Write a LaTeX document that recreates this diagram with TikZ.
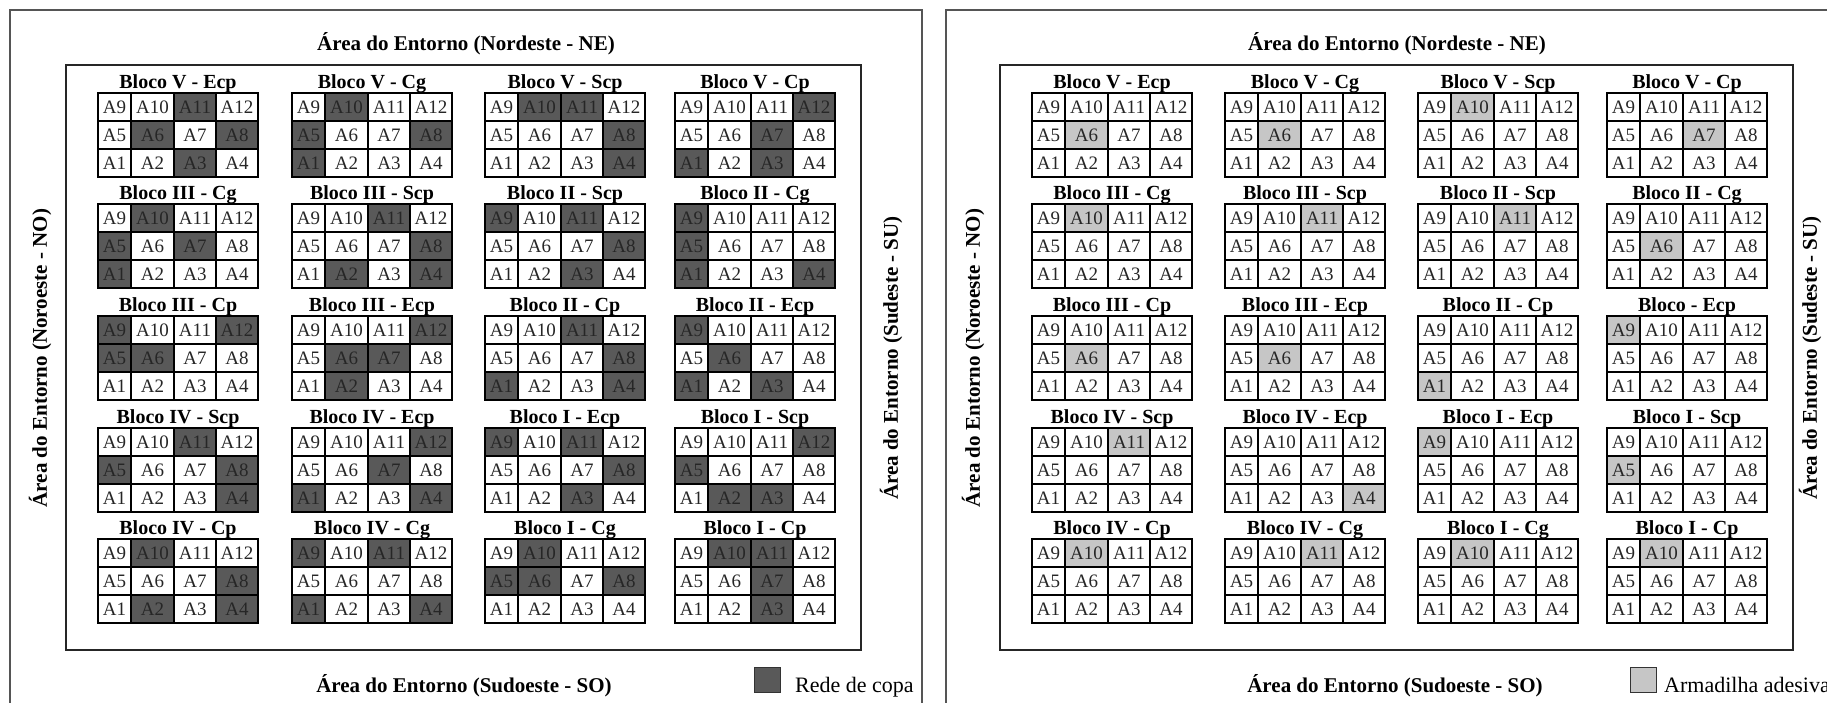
\documentclass[tikz,border=0pt]{standalone}
\usepackage{fontspec}
\setmainfont{Liberation Serif}
\definecolor{darkcell}{HTML}{595959}
\definecolor{lightcell}{HTML}{C6C6C6}
\definecolor{framegray}{HTML}{555555}
\tikzset{
  cellline/.style={draw=black, line width=1.2pt},
  outerframe/.style={draw=framegray, line width=1.6pt},
  innerframe/.style={draw=black!85, line width=1.4pt},
  blocktitle/.style={font=\fontsize{20}{24}\selectfont\bfseries, anchor=base, inner sep=0pt},
  celltext/.style={font=\fontsize{19}{22}\selectfont, inner sep=0pt, text=black!85},
  maintitle/.style={font=\fontsize{21}{25}\selectfont\bfseries, inner sep=0pt, anchor=base},
  sidetitle/.style={font=\fontsize{21}{25}\selectfont\bfseries, inner sep=0pt, rotate=90},
  legendbox/.style={draw=black!80, line width=1pt, minimum width=26pt, minimum height=25pt, inner sep=0pt},
  legendtext/.style={font=\fontsize{22}{26}\selectfont, anchor=base west, inner sep=0pt},
}
% #1 name, #2 x, #3 y, #4 title, #5 shaded cells, #6 fill colour
\newcommand{\drawblock}[6]{%
  \begin{scope}[shift={(#2,#3)}]
    \foreach \n in {#5}{%
      \pgfmathtruncatemacro\rowi{2-int((\n-1)/4)}%
      \pgfmathtruncatemacro\coli{mod(\n-1,4)}%
      \pgfmathsetmacro\xl{{0,33,76,118,160}[\coli]}%
      \pgfmathsetmacro\xr{{0,33,76,118,160}[\coli+1]}%
      \fill[#6] (\xl,\rowi*28) rectangle (\xr,\rowi*28+28);
    }
    \draw[cellline] (0,0) rectangle (160,84);
    \foreach \xx in {33,76,118} \draw[cellline] (\xx,0) -- (\xx,84);
    \foreach \yy in {28,56} \draw[cellline] (0,\yy) -- (160,\yy);
    \foreach \n in {1,...,12}{%
      \pgfmathtruncatemacro\rowi{2-int((\n-1)/4)}%
      \pgfmathtruncatemacro\coli{mod(\n-1,4)}%
      \pgfmathsetmacro\xm{{16.5,54.5,97,139}[\coli]}%
      \node[celltext] (#1-\n) at (\xm,\rowi*28+14) {A\n};
    }
    \node[blocktitle] (#1) at (80,-5) {#4};
  \end{scope}}
\begin{document}
\begin{tikzpicture}[x=1pt,y=-1pt]
\useasboundingbox (0,0) rectangle (1827,702);
\clip (0,0) rectangle (1827,702);
\fill[white] (0,0) rectangle (1827,702);
% ---------- left panel ----------
\draw[outerframe] (10,10) rectangle (922,760);
\draw[innerframe] (66,65) rectangle (861,650);
\node[maintitle] (tl) at (466,50) {Área do Entorno (Nordeste - NE)};
\node[maintitle] (bl) at (464,692) {Área do Entorno (Sudoeste - SO)};
\node[sidetitle] (ll) at (40,358) {Área do Entorno (Noroeste - NO)};
\node[sidetitle] (rl) at (891,358) {Área do Entorno (Sudeste - SU)};
\node[legendbox, fill=darkcell] (lgA) at (767,680) {};
\node[legendtext] (lgAt) at (795,692) {Rede de copa};
\drawblock{L1}{98}{93}{Bloco V - Ecp}{11,6,8,3}{darkcell}
\drawblock{L2}{292}{93}{Bloco V - Cg}{10,5,8,1}{darkcell}
\drawblock{L3}{485}{93}{Bloco V - Scp}{10,11,8,4}{darkcell}
\drawblock{L4}{675}{93}{Bloco V - Cp}{12,7,1,3}{darkcell}
\drawblock{L5}{98}{204}{Bloco III - Cg}{10,5,7,1}{darkcell}
\drawblock{L6}{292}{204}{Bloco III - Scp}{11,8,2,4}{darkcell}
\drawblock{L7}{485}{204}{Bloco II - Scp}{9,11,8,3}{darkcell}
\drawblock{L8}{675}{204}{Bloco II - Cg}{9,5,1,4}{darkcell}
\drawblock{L9}{98}{316}{Bloco III - Cp}{9,12,5,6}{darkcell}
\drawblock{L10}{292}{316}{Bloco III - Ecp}{12,6,7,2}{darkcell}
\drawblock{L11}{485}{316}{Bloco II - Cp}{11,8,1,4}{darkcell}
\drawblock{L12}{675}{316}{Bloco II - Ecp}{9,6,1,3}{darkcell}
\drawblock{L13}{98}{428}{Bloco IV - Scp}{11,5,8,4}{darkcell}
\drawblock{L14}{292}{428}{Bloco IV - Ecp}{12,7,1,4}{darkcell}
\drawblock{L15}{485}{428}{Bloco I - Ecp}{9,11,8,3}{darkcell}
\drawblock{L16}{675}{428}{Bloco I - Scp}{12,5,2,3}{darkcell}
\drawblock{L17}{98}{539}{Bloco IV - Cp}{10,8,2,4}{darkcell}
\drawblock{L18}{292}{539}{Bloco IV - Cg}{9,11,1,4}{darkcell}
\drawblock{L19}{485}{539}{Bloco I - Cg}{10,5,6,8}{darkcell}
\drawblock{L20}{675}{539}{Bloco I - Cp}{10,11,7,3}{darkcell}
% ---------- right panel ----------
\draw[outerframe] (946,10) rectangle (2000,760);
\draw[innerframe] (1000,65) rectangle (1793,650);
\node[maintitle] (tr) at (1397,50) {Área do Entorno (Nordeste - NE)};
\node[maintitle] (br) at (1395,692) {Área do Entorno (Sudoeste - SO)};
\node[sidetitle] (lr) at (973,358) {Área do Entorno (Noroeste - NO)};
\node[sidetitle] (rr) at (1810,358) {Área do Entorno (Sudeste - SU)};
\node[legendbox, fill=lightcell] (lgB) at (1643,680) {};
\node[legendtext] (lgBt) at (1664,692) {Armadilha adesiva};
\drawblock{R1}{1032}{93}{Bloco V - Ecp}{6}{lightcell}
\drawblock{R2}{1225}{93}{Bloco V - Cg}{6}{lightcell}
\drawblock{R3}{1418}{93}{Bloco V - Scp}{10}{lightcell}
\drawblock{R4}{1607}{93}{Bloco V - Cp}{7}{lightcell}
\drawblock{R5}{1032}{204}{Bloco III - Cg}{10}{lightcell}
\drawblock{R6}{1225}{204}{Bloco III - Scp}{11}{lightcell}
\drawblock{R7}{1418}{204}{Bloco II - Scp}{11}{lightcell}
\drawblock{R8}{1607}{204}{Bloco II - Cg}{6}{lightcell}
\drawblock{R9}{1032}{316}{Bloco III - Cp}{6}{lightcell}
\drawblock{R10}{1225}{316}{Bloco III - Ecp}{6}{lightcell}
\drawblock{R11}{1418}{316}{Bloco II - Cp}{1}{lightcell}
\drawblock{R12}{1607}{316}{Bloco - Ecp}{9}{lightcell}
\drawblock{R13}{1032}{428}{Bloco IV - Scp}{11}{lightcell}
\drawblock{R14}{1225}{428}{Bloco IV - Ecp}{4}{lightcell}
\drawblock{R15}{1418}{428}{Bloco I - Ecp}{9}{lightcell}
\drawblock{R16}{1607}{428}{Bloco I - Scp}{5}{lightcell}
\drawblock{R17}{1032}{539}{Bloco IV - Cp}{10}{lightcell}
\drawblock{R18}{1225}{539}{Bloco IV - Cg}{11}{lightcell}
\drawblock{R19}{1418}{539}{Bloco I - Cg}{10}{lightcell}
\drawblock{R20}{1607}{539}{Bloco I - Cp}{10}{lightcell}
\end{tikzpicture}
\end{document}
